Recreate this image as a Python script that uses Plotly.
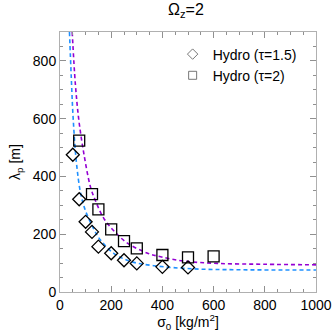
import plotly.graph_objects as go

# Data
sigma_t15 = [50, 75, 100, 125, 150, 200, 250, 300, 400, 500]
lam_t15 = [475, 321, 243, 208, 157, 134, 110, 99, 87, 85]

sigma_t2 = [75, 125, 150, 200, 250, 300, 400, 500, 600]
lam_t2 = [524, 339, 286, 217, 176, 151, 128, 120, 123]

# Fit curves
fit15_x = [37, 44, 51.5, 64.5, 81, 100, 132, 158, 210, 275, 366, 523, 700, 1000]
fit15_y = [900, 745, 600, 445, 340, 280, 218, 180, 134, 106, 91, 80, 77, 76]

fit2_x = [47.6, 60, 73.6, 93, 119, 139, 171, 210, 262, 340, 393, 484, 614, 800, 1000]
fit2_y = [900, 720, 595, 480, 364, 315, 255, 212, 170, 135, 122, 107, 99, 96, 94]

legend_names = ["Hydro (τ=1.5)", "Hydro (τ=2)"]

FONT = "Liberation Sans, Arial, sans-serif"

fig = go.Figure()
fig.add_trace(go.Scatter(x=fit15_x, y=fit15_y, mode="lines", line_shape="spline",
                         line=dict(color="#1e90ff", width=1.6, dash="4px,3px"),
                         showlegend=False, hoverinfo="skip"))
fig.add_trace(go.Scatter(x=fit2_x, y=fit2_y, mode="lines", line_shape="spline",
                         line=dict(color="#9400d3", width=1.6, dash="4px,3px"),
                         showlegend=False, hoverinfo="skip"))
fig.add_trace(go.Scatter(x=sigma_t15, y=lam_t15, mode="markers", showlegend=False,
                         marker=dict(symbol="diamond-open", size=10, color="black",
                                     line=dict(width=1.3, color="black"))))
fig.add_trace(go.Scatter(x=sigma_t2, y=lam_t2, mode="markers", showlegend=False,
                         marker=dict(symbol="square-open", size=11, color="black",
                                     line=dict(width=1.3, color="black"))))
# legend-only entries with small symbols, as in the reference
fig.add_trace(go.Scatter(x=[None], y=[None], mode="markers", name=legend_names[0],
                         marker=dict(symbol="diamond-open", size=8, color="#555555",
                                     line=dict(width=0.8, color="#555555"))))
fig.add_trace(go.Scatter(x=[None], y=[None], mode="markers", name=legend_names[1],
                         marker=dict(symbol="square-open", size=8, color="#555555",
                                     line=dict(width=0.8, color="#555555"))))

axis_common = dict(
    showgrid=False, zeroline=False, showline=True, linecolor="#b0b0b0", linewidth=1,
    mirror="allticks", ticks="inside", ticklen=6, tickcolor="#909090", tickwidth=1,
    tickfont=dict(family=FONT, size=14, color="black"), automargin=False,
    minor=dict(ticks="inside", ticklen=3, tickcolor="#909090", tickwidth=1),
)

fig.update_layout(
    width=332, height=332,
    margin=dict(l=60, r=16, t=32, b=40, autoexpand=False),
    paper_bgcolor="white", plot_bgcolor="white",
    font=dict(family=FONT, color="black"),
    title=dict(text="Ω<sub>z</sub>=2", x=0.56, xanchor="center", y=0.99, yanchor="top",
               font=dict(family=FONT, size=16, color="black")),
    legend=dict(x=0.44, y=0.975, xanchor="left", yanchor="top", bgcolor="rgba(0,0,0,0)",
                font=dict(family=FONT, size=14, color="black"), itemwidth=30,
                tracegroupgap=0),
    xaxis=dict(range=[0, 1000], tickvals=[0, 200, 400, 600, 800, 1000],
               title=dict(text="σ<sub>0</sub> [kg/m<sup>2</sup>]", standoff=2,
                          font=dict(family=FONT, size=14)),
               **axis_common),
    yaxis=dict(range=[0, 900], tickvals=[0, 200, 400, 600, 800],
               title=dict(text="λ<sub>p</sub> [m]", standoff=8,
                          font=dict(family=FONT, size=14)),
               **axis_common),
)
fig.update_xaxes(minor_dtick=50)
fig.update_yaxes(minor_dtick=50)

# remove the default 8px page margin so the 332x332 figure fills the window
fig.write_html("out.html", config={"displayModeBar": False},
               post_script="document.body.style.margin='0';document.body.style.overflow='hidden';")
